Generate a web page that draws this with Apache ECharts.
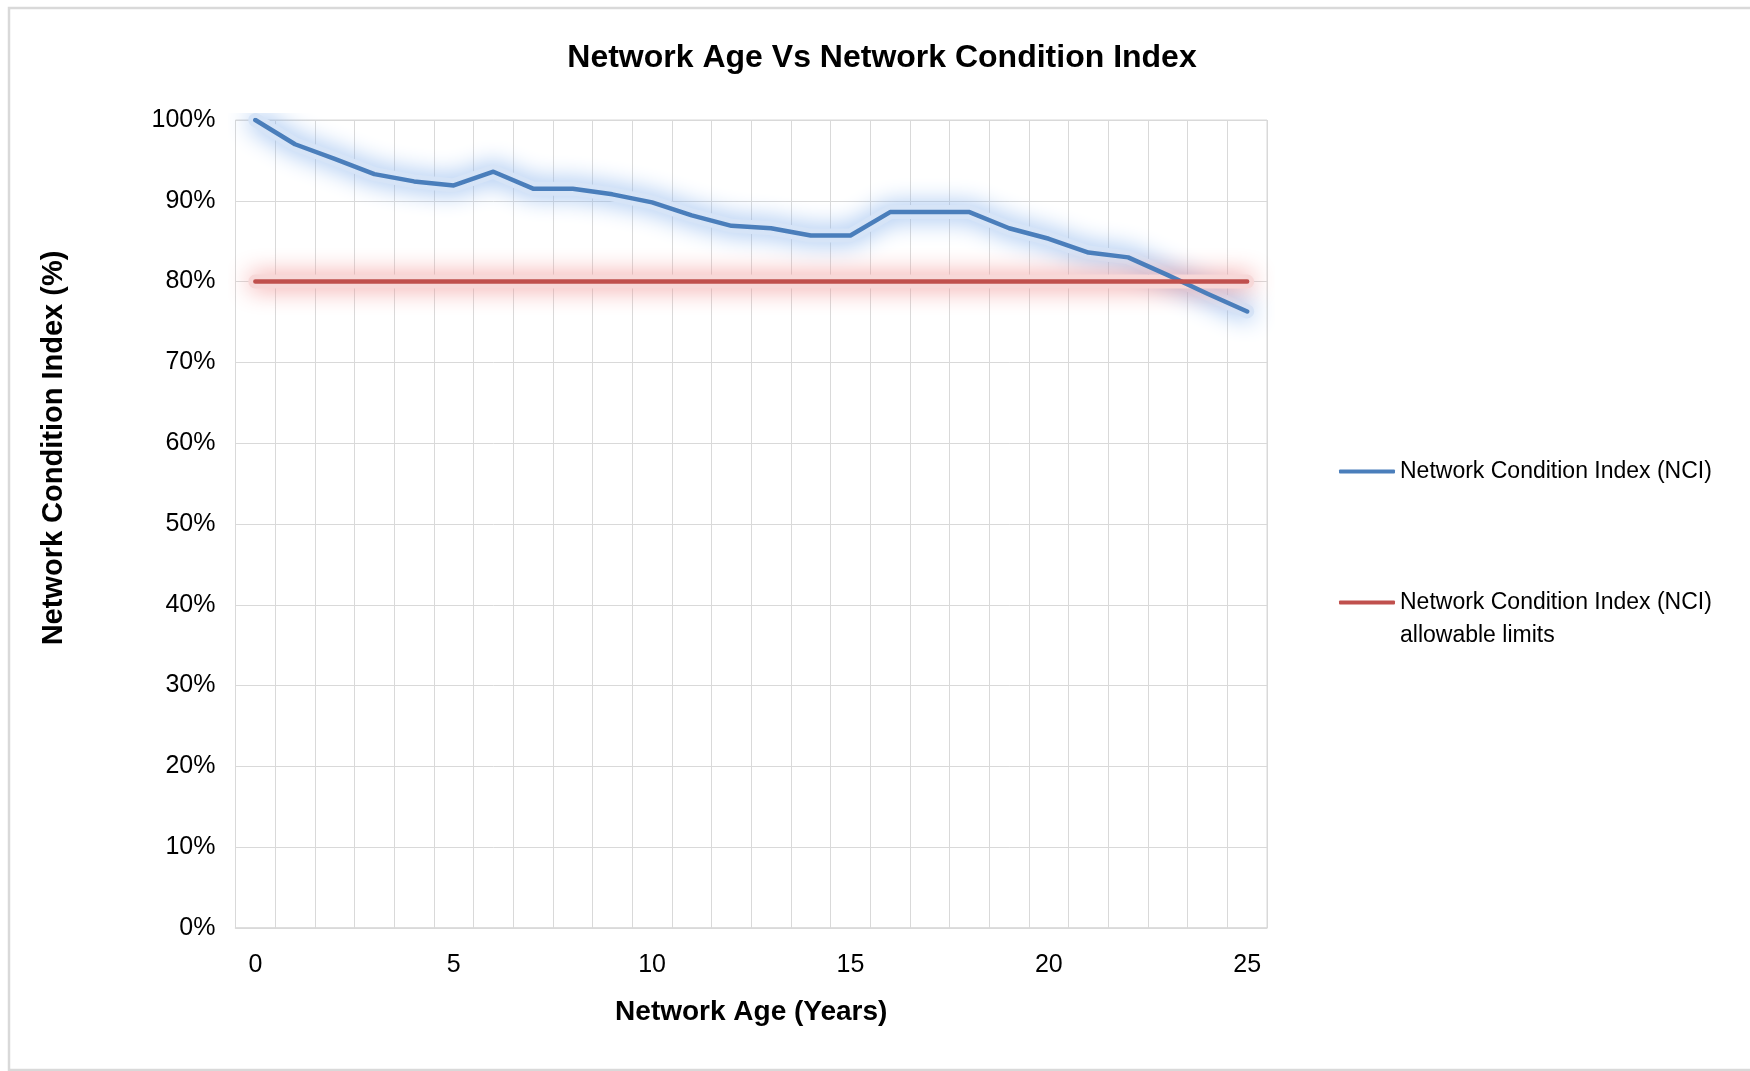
<!DOCTYPE html>
<html>
<head>
<meta charset="utf-8">
<title>Network Age Vs Network Condition Index</title>
<script src="https://cdn.jsdelivr.net/npm/echarts@6/dist/echarts.min.js"></script>
<style>
  html, body { margin: 0; padding: 0; background: #ffffff; }
  #chart { width: 1750px; height: 1071px; }
</style>
</head>
<body>
<div id="chart"></div>
<script>
// Network age in years (category axis)
const ageYears = ['0','1','2','3','4','5','6','7','8','9','10','11','12','13','14','15','16','17','18','19','20','21','22','23','24','25'];

// Network Condition Index (%) per year of age
const nciValues = [100, 97.0, 95.2, 93.3, 92.4, 91.9, 93.6, 91.5, 91.5, 90.8, 89.8, 88.2, 86.9, 86.6, 85.7, 85.7, 88.6, 88.6, 88.6, 86.6, 85.3, 83.6, 83.0, 80.8, 78.5, 76.3];

// Allowable NCI limit (%)
const nciLimit = [80, 80, 80, 80, 80, 80, 80, 80, 80, 80, 80, 80, 80, 80, 80, 80, 80, 80, 80, 80, 80, 80, 80, 80, 80, 80];

// Y axis tick range (%)
const yMin = 0, yMax = 100, yStep = 10;

const seriesNames = ['Network Condition Index (NCI)', 'Network Condition Index (NCI) allowable limits'];

const FONT = "'Liberation Sans Narrow', 'Arial Narrow', 'Liberation Sans', sans-serif";
const BLUE = '#4A7EBB';
const RED = '#C0504D';
const GRID_GREY = '#d9d9d9';

// Soft halo drawn underneath a line: a pale band whose blurred shadow fades outwards
function glowSeries(data, bandColor, haloColor, z) {
  return {
    type: 'line',
    data: data,
    symbol: 'none',
    silent: true,
    lineStyle: {
      color: bandColor, width: 14, cap: 'round', join: 'round',
      shadowBlur: 24, shadowColor: haloColor
    },
    z: z
  };
}

const chart = echarts.init(document.getElementById('chart'), null, { renderer: 'canvas' });

chart.setOption({
  animation: false,
  backgroundColor: '#ffffff',
  textStyle: { fontFamily: FONT },
  title: {
    text: 'Network Age Vs Network Condition Index',
    left: 882,
    top: 42,
    padding: 0,
    textAlign: 'center',
    textStyle: { fontFamily: FONT, fontWeight: 'bold', fontSize: 32, color: '#000000' }
  },
  graphic: [{
    type: 'rect',
    shape: { x: 9, y: 8, width: 1760, height: 1062 },
    style: { fill: 'none', stroke: GRID_GREY, lineWidth: 2.5 },
    silent: true,
    z: -1
  }],
  legend: [{
    data: [seriesNames[0]],
    orient: 'vertical',
    left: 1339,
    top: 455,
    padding: 0,
    icon: 'roundRect',
    itemWidth: 56,
    itemHeight: 4,
    textStyle: { fontFamily: FONT, fontSize: 23, color: '#000000', lineHeight: 33 }
  }, {
    data: [seriesNames[1]],
    orient: 'vertical',
    left: 1339,
    top: 553,
    padding: 0,
    icon: 'roundRect',
    itemWidth: 56,
    itemHeight: 4,
    // leading blank line keeps the first text line level with the legend line
    formatter: function (name) { return '\n' + name.replace(' allowable', '\nallowable'); },
    textStyle: { fontFamily: FONT, fontSize: 23, color: '#000000', lineHeight: 33 }
  }],
  grid: {
    left: 235.5,
    top: 120,
    width: 1031.5,
    height: 808,
    show: true,
    borderColor: GRID_GREY,
    borderWidth: 1,
    containLabel: false
  },
  xAxis: {
    type: 'category',
    data: ageYears,
    boundaryGap: true,
    name: 'Network Age (Years)',
    nameLocation: 'middle',
    nameGap: 84,
    nameTextStyle: { fontFamily: FONT, fontWeight: 'bold', fontSize: 28, color: '#000000', verticalAlign: 'middle' },
    axisLine: { show: true, lineStyle: { color: GRID_GREY, width: 1.5 } },
    axisTick: { show: false },
    axisLabel: { interval: 4, margin: 25, fontFamily: FONT, fontSize: 25, color: '#000000' },
    splitLine: { show: true, interval: 0, lineStyle: { color: GRID_GREY, width: 1 } }
  },
  yAxis: {
    type: 'value',
    min: yMin,
    max: yMax,
    interval: yStep,
    name: 'Network Condition Index (%)',
    nameLocation: 'middle',
    nameRotate: 90,
    nameGap: 182,
    nameTextStyle: { fontFamily: FONT, fontWeight: 'bold', fontSize: 29, color: '#000000', align: 'center', verticalAlign: 'middle', padding: [0, 0, 0, 152] },
    axisLine: { show: false },
    axisTick: { show: false },
    axisLabel: { margin: 20, fontFamily: FONT, fontSize: 25, color: '#000000', formatter: '{value}%' },
    splitLine: { show: true, lineStyle: { color: GRID_GREY, width: 1 } }
  },
  series: [
    glowSeries(nciValues, 'rgb(214,228,247)', 'rgb(135,178,236)', 1),
    glowSeries(nciLimit, 'rgb(247,216,216)', 'rgb(240,145,145)', 1),
    {
      name: seriesNames[0],
      type: 'line',
      data: nciValues,
      symbol: 'none',
      color: BLUE,
      lineStyle: { color: BLUE, width: 4.5, cap: 'round', join: 'round' },
      z: 2
    }, {
      name: seriesNames[1],
      type: 'line',
      data: nciLimit,
      symbol: 'none',
      color: RED,
      lineStyle: { color: RED, width: 4.5, cap: 'round' },
      z: 3
    }
  ]
});
</script>
</body>
</html>
